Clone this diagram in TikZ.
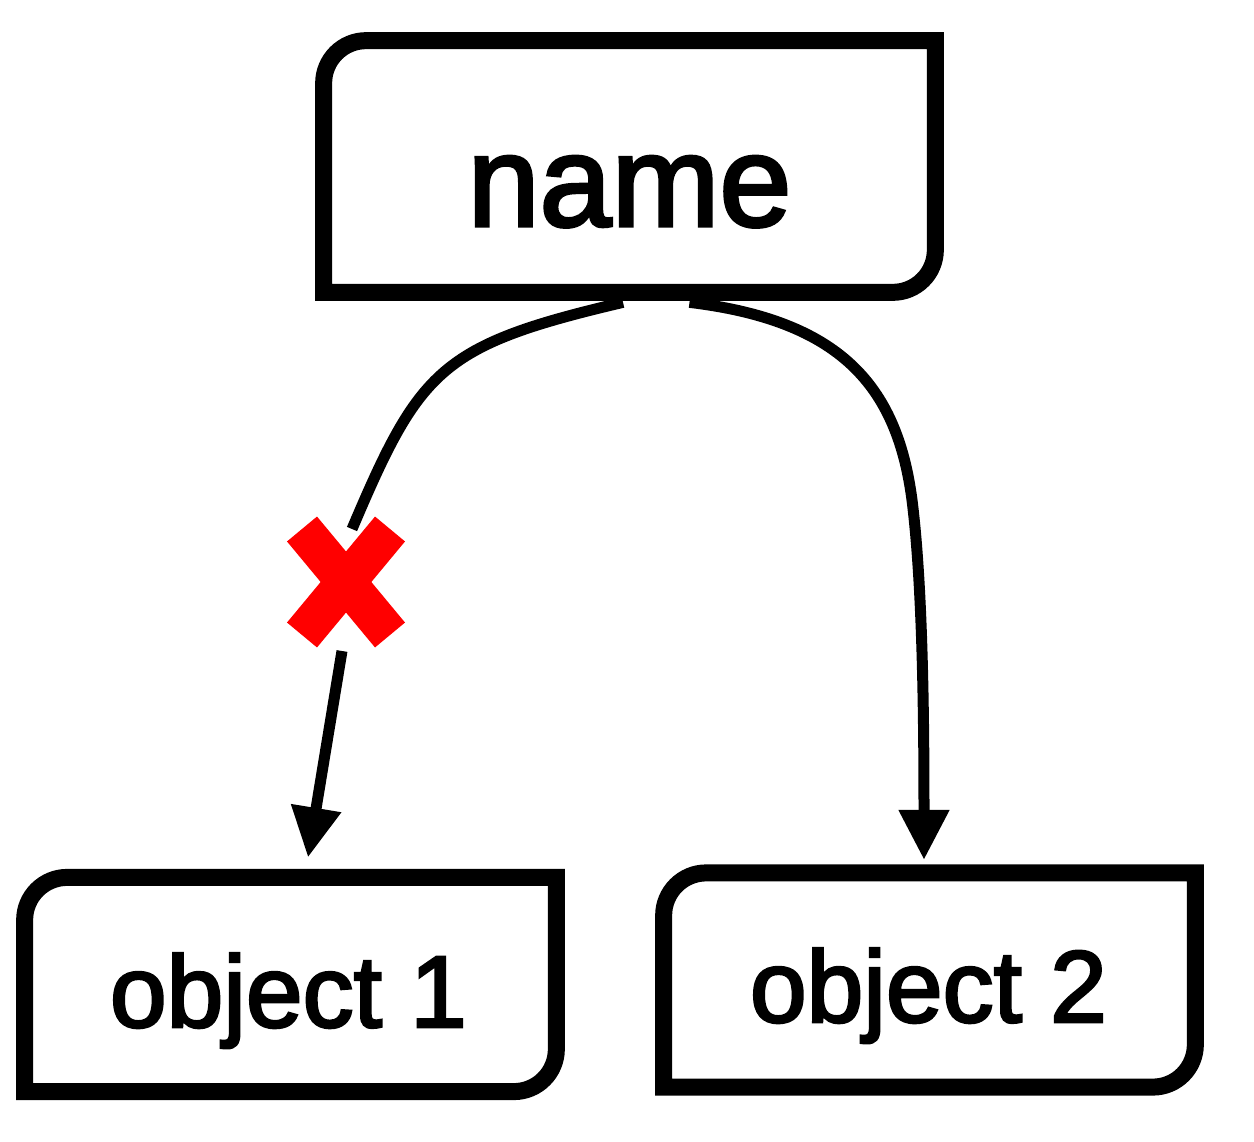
\documentclass[tikz,border=0pt]{standalone}
\usepackage{fontspec}
\setmainfont{Liberation Sans}
\newfontfamily\lblfont{Liberation Sans}[FakeBold=2.6]
\usetikzlibrary{arrows.meta, shapes.misc}

\begin{document}
\begin{tikzpicture}[
    box/.style={rectangle, inner sep=0pt, minimum width=10.62cm, minimum height=4.27cm},
    bigbox/.style={box, minimum width=12.22cm, minimum height=5.02cm},
    frame/.style={draw=black, line width=0.34cm},
    lbl/.style={anchor=base, inner sep=0pt, font=\lblfont\fontsize{58}{60}\selectfont},
    biglbl/.style={lbl, font=\lblfont\fontsize{73.7}{76}\selectfont},
    link/.style={draw, line width=0.22cm},
    arrowlink/.style={link, -{Triangle[length=1cm, width=0.96cm]}},
    cross/.style={cross out, draw=red, line width=0.78cm, inner sep=0pt, outer sep=0pt, minimum width=1.76cm, minimum height=2.12cm}
]
\useasboundingbox (0,0) rectangle (25.08,-22.84);

% Boxes
\node[bigbox] (name) at (12.59,-3.33) {};
\node[box] (obj1) at (5.81,-19.69) {};
\node[box] (obj2) at (18.59,-19.60) {};

% Labels
\node[biglbl] (nametext) at ([yshift=-1.19cm]name.center) {name};
\node[lbl] (obj1text) at ([shift={(-0.04,-0.85)}]obj1.center) {object 1};
\node[lbl] (obj2text) at ([shift={(-0.02,-0.84)}]obj2.center) {object 2};

% Broken link
\node[cross] (cut) at (6.92,-11.64) {};
\coordinate (bend) at (18.24,-10.0);

% Connections
\draw[link] ([shift={(-0.13,-0.2)}]name.south) .. controls +(-3.66,-0.86) and +(1.36,3.2) .. ([xshift=0.12cm]cut.north);
\draw[arrowlink] ([shift={(-0.08,-0.32)}]cut.south) -- ([shift={(0.35,0.4)}]obj1.north);
\draw[arrowlink] ([shift={(1.2,-0.2)}]name.south) .. controls +(3.0,-0.36) and +(-0.3,2.3) .. (bend)
    .. controls +(0.2,-1.6) and +(0,3.2) .. ([shift={(-0.11,0.26)}]obj2.north);

% Outlines, rounded at top left and bottom right
\foreach \b in {name, obj1, obj2}
  \draw[frame] (\b.south west) -- ([yshift=-0.85cm]\b.north west)
    arc[start angle=180, end angle=90, radius=0.85cm] -- (\b.north east)
    -- ([yshift=0.85cm]\b.south east)
    arc[start angle=0, end angle=-90, radius=0.85cm] -- cycle;

\end{tikzpicture}
\end{document}
